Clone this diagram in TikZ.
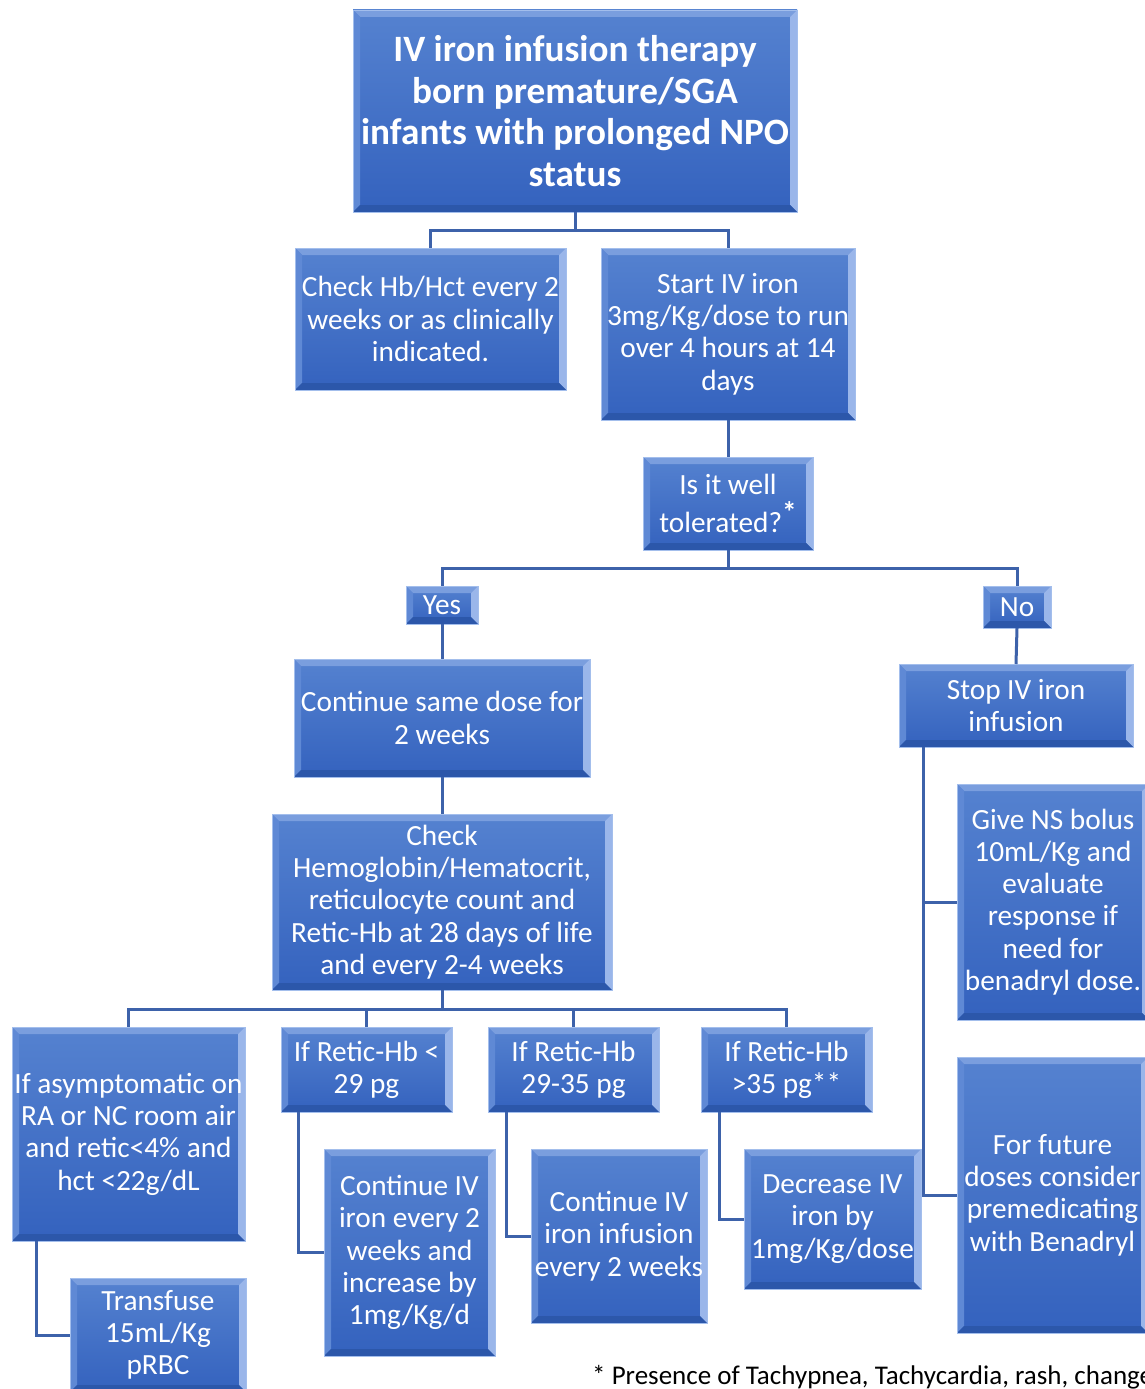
\documentclass[tikz,border=0pt]{standalone}
\usepackage{fontspec}
\setmainfont{Carlito}
\definecolor{bxtop}{HTML}{5582D0}
\definecolor{bxbot}{HTML}{3462BE}
\definecolor{bvT}{HTML}{7A9EDE}
\definecolor{bvL}{HTML}{5F89D5}
\definecolor{bvR}{HTML}{9AB6EA}
\definecolor{bvB}{HTML}{2C57AA}
\definecolor{bxline}{HTML}{A3BEEC}
\definecolor{conncol}{HTML}{3D62AA}
\def\bev{7pt}
\tikzset{
  bx/.style={rectangle, inner sep=0pt, outer sep=0pt, draw=bxline, line width=0.8pt,
    top color=bxtop, bottom color=bxbot,
    path picture={
      \path (path picture bounding box.south west) coordinate (pSW)
            (path picture bounding box.north east) coordinate (pNE)
            (path picture bounding box.north west) coordinate (pNW)
            (path picture bounding box.south east) coordinate (pSE);
      \fill[bvT] (pNW) -- (pNE) -- ([shift={(-\bev,-\bev)}]pNE) -- ([shift={(\bev,-\bev)}]pNW) -- cycle;
      \fill[bvL] (pNW) -- (pSW) -- ([shift={(\bev,\bev)}]pSW) -- ([shift={(\bev,-\bev)}]pNW) -- cycle;
      \fill[bvR] (pNE) -- (pSE) -- ([shift={(-\bev,\bev)}]pSE) -- ([shift={(-\bev,-\bev)}]pNE) -- cycle;
      \fill[bvB] (pSW) -- (pSE) -- ([shift={(-\bev,\bev)}]pSE) -- ([shift={(\bev,\bev)}]pSW) -- cycle;
    }},
  txt/.style={align=center, text=white, inner sep=0pt, font=\fontsize{29.3}{32.3}\selectfont},
  ttl/.style={align=center, text=white, inner sep=0pt, font=\fontsize{37.2}{41.4}\selectfont\bfseries},
  conn/.style={draw=conncol, line width=3pt},
}
\newcommand\bx[7][txt]{%
  \node[bx, minimum width={#5pt-#3pt}, minimum height={#6pt-#4pt}] (#2) at ({(#3+#5)/2},{(#4+#6)/2}) {};
  \node[#1] (#2t) at (#2.center) {#7};
}
\begin{document}
\begin{tikzpicture}[x=1pt,y=-1pt]
\fill[white] (0,0) rectangle (1145,1389);
\useasboundingbox (0,0) rectangle (1145,1389);

\bx[ttl]{title}{353}{10}{797}{212}{IV iron infusion therapy\\born premature/SGA\\infants with prolonged NPO\\status}
\bx{chk}{295}{248}{566}{390}{Check Hb/Hct every 2\\weeks or as clinically\\indicated.}
\bx{start}{601}{248}{855}{420}{Start IV iron\\3mg/Kg/dose to run\\over 4 hours at 14\\days}
\bx{tol}{643}{457}{813}{550}{Is it well\\[5pt]tolerated?\raisebox{0.32em}{\bfseries *}}
\bx{yes}{406}{586}{478}{624}{Yes}
\bx{no}{983}{586}{1051}{628}{No}
\bx{cont}{294}{659}{590}{777}{Continue same dose for\\2 weeks}
\bx{stop}{899}{664}{1133}{747}{Stop IV iron\\infusion}
\bx{chkh}{272}{814}{612}{990}{Check\\Hemoglobin/Hematocrit,\\reticulocyte count and\\Retic-Hb at 28 days of life\\and every 2-4 weeks}
\bx{give}{957}{784}{1149}{1020}{Give NS bolus\\10mL/Kg and\\evaluate\\response if\\need for\\benadryl dose.}
\bx{asym}{12}{1027}{245}{1241}{If asymptomatic on\\RA or NC room air\\and retic<4\% and\\hct <22g/dL}
\bx{ra}{281}{1027}{452}{1112}{If Retic-Hb <\\29 pg}
\bx{rb}{488}{1027}{659}{1112}{If Retic-Hb\\29-35 pg}
\bx{rc}{701}{1027}{872}{1112}{If Retic-Hb\\>35 pg**}
\bx{trans}{70}{1278}{246}{1392}{Transfuse\\15mL/Kg\\pRBC}
\bx{ca}{324}{1149}{495}{1356}{Continue IV\\iron every 2\\weeks and\\increase by\\1mg/Kg/d}
\bx{cb}{531}{1149}{707}{1323}{Continue IV\\iron infusion\\every 2 weeks}
\bx{dec}{744}{1149}{921}{1289}{Decrease IV\\iron by\\1mg/Kg/dose}
\bx{fut}{957}{1057}{1148}{1333}{For future\\doses consider\\premedicating\\with Benadryl}

\draw[conn] (title.south) -- ++(0,18) -| (chk.north);
\draw[conn] (title.south) -- ++(0,18) -| (start.north);
\draw[conn] (start.south) -- (tol.north);
\draw[conn] (tol.south) -- ++(0,18) -| (yes.north);
\draw[conn] (tol.south) -- ++(0,18) -| (no.north);
\draw[conn] (yes.south) -- (cont.north);
\draw[conn] (no.south) -- (stop.north);
\draw[conn] (cont.south) -- (chkh.north);
\draw[conn] (chkh.south) -- ++(0,19) -| (asym.north);
\draw[conn] (chkh.south) -- ++(0,19) -| (ra.north);
\draw[conn] (chkh.south) -- ++(0,19) -| (rb.north);
\draw[conn] (chkh.south) -- ++(0,19) -| (rc.north);
\draw[conn] ([xshift=24pt]asym.south west) |- (trans.west);
\draw[conn] ([xshift=17pt]ra.south west) |- (ca.west);
\draw[conn] ([xshift=18pt]rb.south west) |- (cb.west);
\draw[conn] ([xshift=18pt]rc.south west) |- (dec.west);
\draw[conn] ([xshift=24pt]stop.south west) |- (give.west);
\draw[conn] ([xshift=24pt]stop.south west) |- (fut.west);

\node[anchor=base west, inner sep=0pt, text=black, font=\fontsize{27}{30}\selectfont] (fn) at (592,1384) {* Presence of Tachypnea, Tachycardia, rash, change};
\end{tikzpicture}
\end{document}
